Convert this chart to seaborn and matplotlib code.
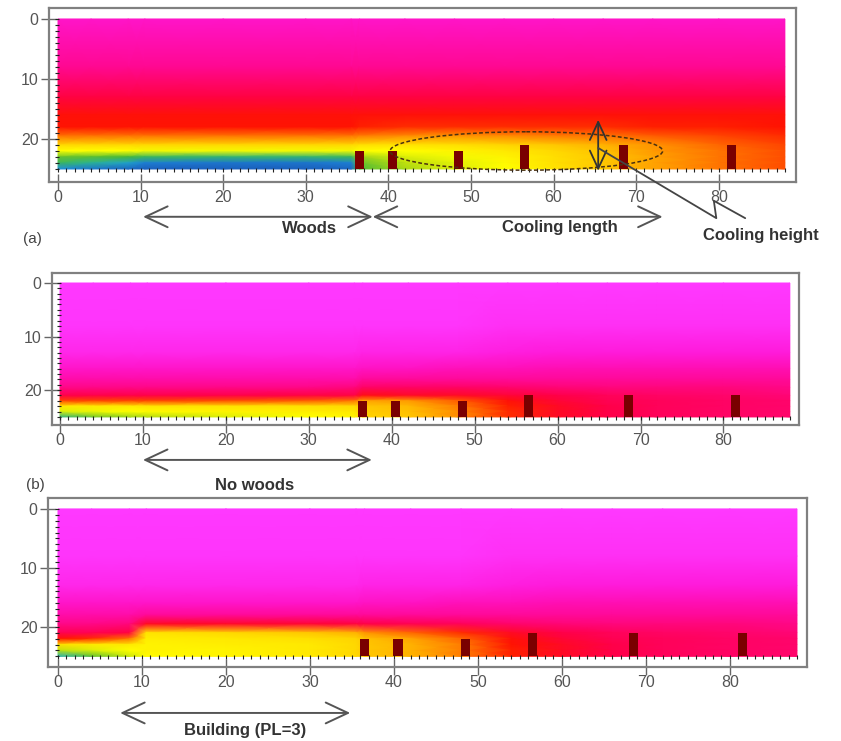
import numpy as np
import matplotlib
matplotlib.use("Agg")
import matplotlib.pyplot as plt
import seaborn as sns
from matplotlib.colors import LinearSegmentedColormap
from matplotlib.patches import Ellipse

sns.set_theme(style="white")
plt.rcParams["font.family"] = ["Liberation Sans", "DejaVu Sans"]

# grid nodes (m): distance along street, depth from top of domain
grid_x = [0, 4, 8.5, 10.5, 20, 30, 35.5, 36.5, 42, 48, 54, 60, 66, 72, 80, 88]
grid_y = [0, 8, 13, 16, 18, 19.5, 21, 22, 23, 24, 25]

# relative air temperature (0 = coolest, 1 = hottest), one list per grid_x column, top -> ground
field_a = [
    [.91, .84, .75, .69, .68, .60, .47, .40, .25, .20, .08],
    [.91, .84, .75, .69, .68, .60, .47, .40, .24, .17, .05],
    [.91, .84, .75, .69, .68, .60, .47, .40, .22, .12, .03],
    [.91, .84, .75, .69, .68, .60, .47, .39, .20, .06, .02],
    [.91, .84, .75, .69, .68, .60, .47, .39, .19, .05, .02],
    [.91, .84, .75, .69, .68, .60, .47, .39, .19, .05, .02],
    [.91, .84, .75, .69, .68, .60, .47, .39, .20, .06, .03],
    [.91, .84, .75, .69, .67, .59, .46, .40, .30, .25, .23],
    [.91, .84, .75, .69, .66, .58, .45, .40, .36, .33, .31],
    [.91, .84, .75, .69, .66, .57, .46, .42, .39, .37, .36],
    [.91, .84, .75, .69, .66, .58, .48, .44, .42, .41, .40],
    [.91, .84, .75, .69, .66, .59, .50, .47, .46, .46, .45],
    [.91, .84, .75, .69, .66, .60, .53, .51, .50, .50, .50],
    [.91, .84, .75, .69, .67, .62, .57, .56, .55, .55, .55],
    [.91, .84, .75, .69, .67, .64, .61, .60, .60, .60, .60],
    [.91, .84, .75, .69, .68, .66, .64, .63, .63, .63, .63],
]
field_b = [
    [1.0, .99, .96, .91, .87, .83, .76, .64, .44, .36, .18],
    [1.0, .99, .96, .91, .87, .83, .76, .64, .44, .38, .26],
    [1.0, .99, .96, .91, .87, .83, .76, .64, .44, .40, .30],
    [1.0, .99, .96, .91, .87, .83, .76, .64, .45, .41, .32],
    [1.0, .99, .96, .91, .87, .83, .76, .63, .45, .42, .36],
    [1.0, .99, .96, .91, .87, .83, .75, .62, .46, .43, .40],
    [1.0, .99, .96, .91, .87, .82, .75, .60, .47, .44, .42],
    [1.0, .99, .95, .90, .85, .79, .70, .55, .50, .49, .48],
    [1.0, .99, .95, .90, .85, .79, .72, .56, .52, .51, .50],
    [1.0, .99, .95, .89, .85, .79, .72, .62, .59, .58, .58],
    [1.0, .98, .94, .89, .85, .80, .74, .69, .67, .66, .66],
    [1.0, .98, .93, .88, .85, .81, .76, .74, .72, .72, .72],
    [1.0, .98, .93, .88, .85, .82, .78, .77, .76, .76, .76],
    [1.0, .98, .93, .88, .85, .82, .79, .78, .78, .78, .78],
    [1.0, .98, .93, .88, .85, .82, .80, .79, .79, .79, .79],
    [1.0, .98, .93, .88, .85, .83, .81, .80, .80, .80, .80],
]
field_c = [
    [1.0, .99, .96, .91, .87, .83, .77, .68, .46, .33, .15],
    [1.0, .99, .96, .91, .87, .83, .77, .66, .44, .36, .24],
    [1.0, .99, .96, .91, .87, .82, .75, .60, .44, .40, .34],
    [1.0, .99, .96, .91, .85, .72, .45, .43, .42, .42, .41],
    [1.0, .99, .96, .91, .85, .73, .47, .44, .43, .42, .42],
    [1.0, .99, .96, .91, .85, .74, .50, .46, .44, .44, .44],
    [1.0, .99, .96, .91, .85, .75, .53, .48, .47, .47, .47],
    [1.0, .99, .95, .90, .85, .76, .57, .51, .50, .50, .50],
    [1.0, .99, .95, .90, .85, .77, .61, .55, .53, .53, .53],
    [1.0, .99, .95, .89, .85, .78, .66, .61, .59, .59, .59],
    [1.0, .98, .94, .89, .85, .80, .72, .69, .68, .67, .67],
    [1.0, .98, .93, .88, .85, .81, .76, .74, .72, .72, .72],
    [1.0, .98, .93, .88, .85, .82, .78, .77, .76, .76, .76],
    [1.0, .98, .93, .88, .85, .82, .79, .78, .78, .78, .78],
    [1.0, .98, .93, .88, .85, .82, .80, .79, .79, .79, .79],
    [1.0, .98, .93, .88, .85, .83, .81, .80, .80, .80, .80],
]

# buildings along the street
bld_x = [36.5, 40.5, 48.5, 56.5, 68.5, 81.5]
bld_h = [3, 3, 3, 4, 4, 4]
ground = 25

cmap = LinearSegmentedColormap.from_list("temp", [
    (0.00, "#1a4fb0"), (0.08, "#1e90e0"), (0.15, "#22b0b8"), (0.22, "#45b83a"),
    (0.32, "#b5dc10"), (0.40, "#ffff00"), (0.50, "#ffc800"), (0.58, "#ff8c00"),
    (0.68, "#ff1400"), (0.76, "#ff0048"), (0.86, "#ff0aa0"), (0.93, "#ff18d8"),
    (1.00, "#ff38ff")])

fig = plt.figure(figsize=(8.41, 7.41), dpi=100)

# [left, bottom, width, height], xlim, ylim
panels = [
    (field_a, [0.0583, 0.7544, 0.8882, 0.2348], (-1.09, 89.35), (27.17, -1.83)),
    (field_b, [0.0618, 0.4265, 0.8882, 0.2051], (-0.97, 89.1), (26.5, -1.87)),
    (field_c, [0.0571, 0.0999, 0.9025, 0.2281], (-1.19, 89.2), (26.8, -1.86)),
]

axes = []
for field, rect, xl, yl in panels:
    ax = fig.add_axes(rect)
    ax.pcolormesh(grid_x, grid_y, np.array(field).T, cmap=cmap, vmin=0, vmax=1,
                  shading="gouraud", zorder=1)
    ax.bar(bld_x, [-h for h in bld_h], bottom=ground, width=1.1,
           color="#7a0000", linewidth=0, zorder=3)
    ax.plot(np.arange(0, 89), np.full(89, ground + 0.15), ls="none", marker="|",
            ms=3.5, mew=0.8, color="#222", zorder=4)
    ax.plot(np.full(26, -0.1), np.arange(0, 26), ls="none", marker="_",
            ms=3, mew=0.8, color="#222", zorder=4)
    ax.set_xlim(*xl)
    ax.set_ylim(*yl)
    ax.set_xticks(range(0, 81, 10))
    ax.set_yticks([0, 10, 20])
    ax.tick_params(axis="both", direction="inout", length=12, width=1,
                   color="#666", labelcolor="#555", labelsize=11.5,
                   bottom=True, left=True)
    ax.tick_params(axis="x", pad=0)
    ax.tick_params(axis="y", pad=1.5)
    for s in ax.spines.values():
        s.set_color("#808080")
        s.set_linewidth(1.6)
    ax.set_facecolor("white")
    axes.append(ax)

arrow_kw = dict(arrowstyle="<->,head_length=1.6,head_width=0.75", mutation_scale=10,
                color="#555", lw=1.4, shrinkA=0, shrinkB=0)
text_kw = dict(ha="center", va="center", fontsize=12, fontweight="bold", color="#333")


def span_arrow(ax, x0, x1, y):
    tr = ax.get_xaxis_transform()
    ax.annotate("", xy=(x0, y), xytext=(x1, y), xycoords=tr, textcoords=tr,
                arrowprops=arrow_kw, annotation_clip=False)


ax_a, ax_b, ax_c = axes

# (a) woods
span_arrow(ax_a, 10.3, 38.1, -0.20)
span_arrow(ax_a, 38.1, 73.2, -0.20)
ax_a.text(30.4, -0.27, "Woods", transform=ax_a.get_xaxis_transform(), **text_kw)
ax_a.text(60.8, -0.26, "Cooling length", transform=ax_a.get_xaxis_transform(), **text_kw)
ax_a.text(85.1, -0.305, "Cooling height", transform=ax_a.get_xaxis_transform(), **text_kw)
ax_a.text(-0.035, -0.33, "(a)", transform=ax_a.transAxes, fontsize=11, color="#444",
          ha="left", va="center")
ax_a.add_patch(Ellipse((56.7, 22.0), width=33, height=6.4, fill=False,
                       edgecolor="#4a3010", lw=1.1, ls=(0, (2.5, 1.5)), zorder=5))
ax_a.annotate("", xy=(65.4, 16.8), xytext=(65.4, 25.3),
              arrowprops=dict(arrow_kw, arrowstyle="<->,head_length=1.3,head_width=0.6",
                              color="#333", lw=1.3), zorder=6)
ax_a.plot([65.4, 79.7, 79.4, 83.2], [21.5, 33.2, 30.3, 33.2], color="#444", lw=1.3,
          clip_on=False, zorder=6)

# (b) no woods
span_arrow(ax_b, 10.0, 37.6, -0.23)
ax_b.text(23.5, -0.40, "No woods", transform=ax_b.get_xaxis_transform(), **text_kw)
ax_b.text(-0.035, -0.395, "(b)", transform=ax_b.transAxes, fontsize=11, color="#444",
          ha="left", va="center")

# (c) building
span_arrow(ax_c, 7.4, 34.8, -0.272)
ax_c.text(22.3, -0.373, "Building (PL=3)", transform=ax_c.get_xaxis_transform(), **text_kw)

fig.savefig("out.png", dpi=100)
